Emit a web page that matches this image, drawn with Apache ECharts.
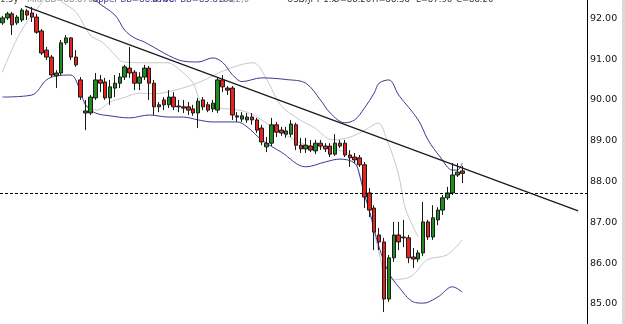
<!DOCTYPE html>
<html><head><meta charset="utf-8">
<script src="https://cdn.jsdelivr.net/npm/echarts@6/dist/echarts.min.js"></script>
<style>html,body{margin:0;padding:0;background:#fff;overflow:hidden}#c{width:625px;height:324px}</style>
</head><body><div id="c"></div>
<script>
// ---- candle data (USD/JPY) ----
const opens  = [91.89,92.01,92.11,91.89,91.96,92.18,92.13,92.03,91.69,91.22,91.05,90.59,90.66,91.40,91.52,91.05,90.49,89.68,89.68,90.05,90.49,90.44,90.05,90.29,90.41,90.56,90.78,90.68,90.41,90.56,90.78,90.41,89.83,90.00,89.88,90.07,89.83,89.83,89.83,89.78,89.68,90.00,89.88,89.78,89.75,90.49,90.29,90.29,89.61,89.53,89.51,89.58,89.51,89.31,88.85,88.94,89.39,89.26,89.16,89.16,89.39,88.89,88.80,88.87,88.75,88.94,88.87,88.87,88.67,88.94,88.94,88.65,88.60,88.58,88.41,87.72,87.35,86.69,86.52,85.12,86.13,86.69,86.62,86.62,86.15,86.10,86.25,87.01,86.64,87.06,87.30,87.60,87.72,88.16,88.26];
const closes = [92.01,92.11,91.84,92.03,92.20,92.08,92.03,91.66,91.15,91.05,90.61,90.66,91.40,91.52,91.05,90.86,90.07,89.73,90.07,90.49,90.41,90.05,90.32,90.41,90.56,90.81,90.66,90.41,90.56,90.78,90.41,89.83,89.88,89.88,90.07,89.83,89.85,89.80,89.75,89.68,89.97,89.83,89.75,89.92,90.49,90.32,90.24,89.63,89.58,89.61,89.58,89.51,89.26,88.97,88.94,89.39,89.21,89.19,89.24,89.41,88.89,88.80,88.89,88.77,88.94,88.87,88.80,88.67,88.94,88.87,88.65,88.58,88.53,88.41,87.62,87.30,86.76,86.52,85.12,86.13,86.69,86.52,86.64,86.13,86.10,86.25,87.01,86.64,87.11,87.30,87.60,87.72,88.16,88.23,88.20];
const lows   = [91.84,91.96,91.59,91.84,91.91,91.96,91.91,91.62,91.10,90.98,90.56,90.29,90.61,91.35,90.98,90.81,90.00,89.26,89.63,90.00,90.19,90.00,89.88,90.07,90.29,90.49,90.54,90.24,90.24,90.49,90.00,89.63,89.70,89.75,89.80,89.75,89.70,89.68,89.63,89.61,89.31,89.75,89.70,89.70,89.68,90.19,90.12,89.51,89.46,89.46,89.44,89.39,89.19,88.89,88.72,88.87,89.09,89.12,89.07,89.09,88.77,88.70,88.70,88.72,88.67,88.77,88.72,88.60,88.63,88.82,88.60,88.36,88.45,88.36,87.35,87.13,86.32,86.32,84.80,85.05,86.03,86.32,86.39,86.00,85.88,86.03,86.17,86.57,86.57,86.93,87.18,87.55,87.67,88.11,87.96];
const highs  = [92.06,92.16,92.16,92.08,92.25,92.23,92.28,92.11,91.74,91.30,91.10,90.73,91.47,91.59,91.54,91.22,90.56,90.00,90.12,90.66,90.61,90.54,90.49,90.61,90.66,90.86,91.30,90.73,90.68,90.86,90.83,90.49,89.95,90.07,90.24,90.19,90.00,90.00,89.95,89.88,90.05,90.07,89.95,90.00,90.54,90.61,90.34,90.34,89.70,89.70,89.68,89.68,89.56,89.39,89.09,89.56,89.46,89.34,89.34,89.51,89.44,89.07,89.07,89.02,89.02,89.02,88.94,88.94,89.16,89.02,89.02,88.77,88.70,88.65,88.48,87.84,87.42,86.86,86.62,86.20,87.01,87.01,87.06,86.69,86.37,86.32,87.50,87.06,87.42,87.37,87.67,87.87,88.45,88.45,88.38];

// ---- indicator lines, read as [bar index, price] ----
const upperBB = [[0,93.4],[8,93.6],[15,93.1],[19,92.45],[23,92.08],[25,91.71],[27,91.52],[29,91.42],[33,91.15],[35,91.03],[37,90.95],[40,90.93],[43,91.03],[45,90.92],[47,90.62],[49,90.45],[53,90.54],[58,90.5],[62,90.41],[65,90.0],[67,89.68],[70,89.44],[72,89.51],[74,89.8],[76,90.17],[77,90.41],[79,90.49],[81,90.12],[85,89.51],[87,89.02],[89.5,88.6],[92,88.28],[93,88.28],[94,88.45]];
const lowerBB = [[0,90.07],[6,90.12],[9,90.49],[11,90.59],[14,90.61],[15,90.49],[17,89.88],[19,89.68],[22,89.61],[26,89.56],[30,89.63],[34,89.58],[37,89.58],[40,89.51],[43,89.46],[48,89.46],[50,89.34],[53,89.02],[57,88.72],[62,88.36],[66,88.48],[69,88.55],[72,88.45],[73,88.16],[74,87.67],[75,87.3],[77,86.39],[79,85.76],[81,85.42],[84,85.05],[86,85.02],[89,85.17],[92,85.42],[94,85.29]];
const grayFast = [[0,90.68],[3.6,91.64],[7.7,92.33],[9.7,92.57],[12.4,92.38],[15.2,92.13],[17.9,91.59],[20.6,91.40],[23,91.10],[24.7,90.93],[30.2,90.91],[33.7,90.91],[36.3,90.73],[39,90.41],[40.4,90.0],[43.1,89.83],[50,89.7],[55.7,89.3],[61.9,88.9],[68,88.8],[71.5,88.6],[73.5,88.0],[75.5,87.0],[77.3,86.1],[78.6,85.59],[83.3,85.66],[86.8,86.08],[90.9,86.2],[94,86.57]];
const graySlow = [[16.5,89.92],[19.3,89.75],[22,89.95],[24.7,90.05],[28.1,90.17],[30.8,90.15],[35.3,90.24],[40.4,90.44],[45.5,90.73],[51.2,90.91],[54.1,90.49],[56.8,89.88],[60.8,89.51],[63.5,89.34],[67.6,89.02],[71.1,89.09],[74.1,89.26],[76.8,89.43],[78.6,89.02],[80.9,88.21],[82.3,87.37],[84,86.88],[85,86.64]];
const trendLine = [[4.6,92.30],[117.7,87.28]];
const supportLevel = 87.71;
const lastPrice = 88.20;
const yTicks = [85,86,87,88,89,90,91,92];
const headerParts = [
  {text: '1.5y', x: 0, color: '#444'},
  {text: 'Mid BB=88.8700', x: 27, color: '#8a8a8a'},
  {text: 'Upper BB=88.4700', x: 92, color: '#3b3b8f'},
  {text: 'Lower BB=85.8100', x: 152, color: '#3b3b8f'},
  {text: '20,2,0', x: 222, color: '#8a8a8a'},
  {text: 'USD/JPY 1.x', x: 287, color: '#333'},
  {text: 'O=88.26', x: 333, color: '#333'},
  {text: 'H=88.38', x: 372, color: '#333'},
  {text: 'L=87.96', x: 416, color: '#333'},
  {text: 'C=88.20', x: 456, color: '#333'}
];

const nSlots = 120;
const cats = [];
for (let i = 0; i < nSlots; i++) cats.push(String(i + 1));
const candleData = opens.map((o, i) => [o, closes[i], lows[i], highs[i]]);

const chart = echarts.init(document.getElementById('c'), null, {renderer: 'canvas'});
const lineBase = (name, data, color) => ({
  name, type: 'line', xAxisIndex: 1, data, symbol: 'none', smooth: 0.35,
  lineStyle: {color, width: 1}, clip: true, silent: true, z: 3
});
chart.setOption({
  animation: false,
  backgroundColor: '#ffffff',
  grid: {left: 0, right: 38, top: 0, bottom: 0, containLabel: false},
  xAxis: [
    {type: 'category', data: cats, boundaryGap: true, show: false},
    {type: 'value', min: -0.5, max: nSlots - 0.5, show: false}
  ],
  yAxis: {
    type: 'value', position: 'right', min: 84.508, max: 92.449, splitNumber: 7,
    axisLine: {show: true, onZero: false, lineStyle: {color: '#000', width: 1}},
    axisTick: {show: false}, splitLine: {show: false},
    axisLabel: {
      margin: 3, color: '#111', fontFamily: 'DejaVu Sans', fontSize: 9.5,
      showMinLabel: false, showMaxLabel: false,
      formatter: v => yTicks.indexOf(Math.round(v * 100) / 100) >= 0 ? v.toFixed(2) : ''
    }
  },
  series: [
    lineBase('grayFast', grayFast, '#c8c8c8'),
    lineBase('graySlow', graySlow, '#c8c8c8'),
    lineBase('upperBB', upperBB, '#3b3b8f'),
    lineBase('lowerBB', lowerBB, '#3b3b8f'),
    {
      name: 'USD/JPY', type: 'candlestick', data: candleData, barWidth: 4, z: 4,
      itemStyle: {color: '#1e8c1e', color0: '#e8231d', borderColor: '#1a1a1a', borderColor0: '#1a1a1a', borderWidth: 1},
      markLine: {
        symbol: 'none', silent: true, animation: false,
        data: [
          {yAxis: supportLevel, lineStyle: {color: '#000', width: 1, type: [3, 2]}, label: {show: false}},
          {yAxis: lastPrice, lineStyle: {opacity: 0}, label: {
            show: true, position: 'end', distance: 1, formatter: lastPrice.toFixed(2),
            backgroundColor: '#c3c3c3', color: '#111', fontFamily: 'DejaVu Sans', fontSize: 9.5,
            padding: [2, 3, 1, 1]
          }}
        ]
      }
    },
    {
      name: 'trend', type: 'line', xAxisIndex: 1, data: trendLine, symbol: 'none',
      lineStyle: {color: '#1a1a1a', width: 1.2}, clip: true, silent: true, z: 5
    }
  ],
  graphic: [{type: 'rect', right: 0, top: 0, shape: {width: 3, height: 324}, style: {fill: '#d9d9d9'}}]
    .concat(headerParts.map(p => ({type: 'text', left: p.x, top: -5,
      style: {text: p.text, fill: p.color, font: '8.5px DejaVu Sans'}})))
});
</script>
</body></html>
